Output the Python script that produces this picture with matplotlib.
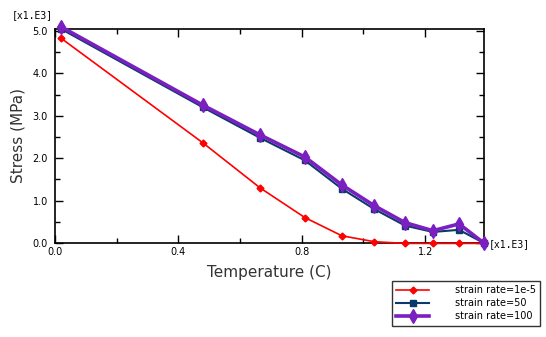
import matplotlib.pyplot as plt
from matplotlib.ticker import MultipleLocator

# temperature in x1.E3 C, stress in x1.E3 MPa
temp = [0.02, 0.48, 0.665, 0.81, 0.93, 1.035, 1.135, 1.225, 1.31, 1.39]
stress_1e5 = [4.83, 2.36, 1.30, 0.60, 0.17, 0.03, -0.01, -0.01, -0.01, -0.01]
stress_50 = [5.05, 3.20, 2.48, 1.95, 1.28, 0.80, 0.41, 0.26, 0.31, 0.0]
stress_100 = [5.10, 3.25, 2.55, 2.03, 1.37, 0.88, 0.48, 0.29, 0.45, 0.0]
labels = ['strain rate=1e-5', 'strain rate=50', 'strain rate=100']

fig = plt.figure(figsize=(5.46, 3.37), dpi=100)
ax = fig.add_axes([0.1007, 0.279, 0.7853, 0.635])

l1, = ax.plot(temp, stress_1e5, color='#ff0000', lw=1.2, marker='D', ms=3.5, clip_on=False, zorder=3)
l2, = ax.plot(temp, stress_50, color='#0a3a6b', lw=1.5, marker='s', ms=4.5, clip_on=False, zorder=4)
l3, = ax.plot(temp, stress_100, color='#7a1fc0', lw=2.6, marker='d', ms=7, clip_on=False, zorder=5)

ax.set_xlim(0, 1.39)
ax.set_ylim(0, 5.05)
ax.xaxis.set_major_locator(MultipleLocator(0.4))
ax.xaxis.set_minor_locator(MultipleLocator(0.2))
ax.yaxis.set_major_locator(MultipleLocator(1.0))
ax.yaxis.set_minor_locator(MultipleLocator(0.5))
ax.xaxis.set_major_formatter(lambda v, p: f'{v:.1f}')
ax.yaxis.set_major_formatter(lambda v, p: f'{v:.1f}')
ax.tick_params(which='both', direction='in', top=True, right=True, labelsize=7, width=1)
ax.tick_params(which='major', length=6)
ax.tick_params(which='minor', length=3.5)
ax.tick_params(axis='x', pad=3)
ax.tick_params(axis='y', pad=5)
for s in ax.spines.values():
    s.set_linewidth(1.2)

ax.set_xlabel('Temperature (C)', fontsize=11, color='#333333', labelpad=6)
ax.set_ylabel('Stress (MPa)', fontsize=11, color='#333333', labelpad=5)
fig.text(0.022, 0.945, '[x1.E3]', fontsize=7, family='DejaVu Sans Mono')
fig.text(0.895, 0.268, '[x1.E3]', fontsize=7, family='DejaVu Sans Mono')

leg = fig.legend([l1, l2, l3], labels, loc='upper left', bbox_to_anchor=(0.718, 0.166),
                 prop={'family': 'DejaVu Sans', 'size': 7},
                 frameon=True, fancybox=False, edgecolor='black', borderpad=0.45,
                 labelspacing=0.3, handlelength=3.4, handletextpad=2.6, borderaxespad=0)
leg.get_frame().set_linewidth(1.0)

fig.savefig('out.png', dpi=100)
